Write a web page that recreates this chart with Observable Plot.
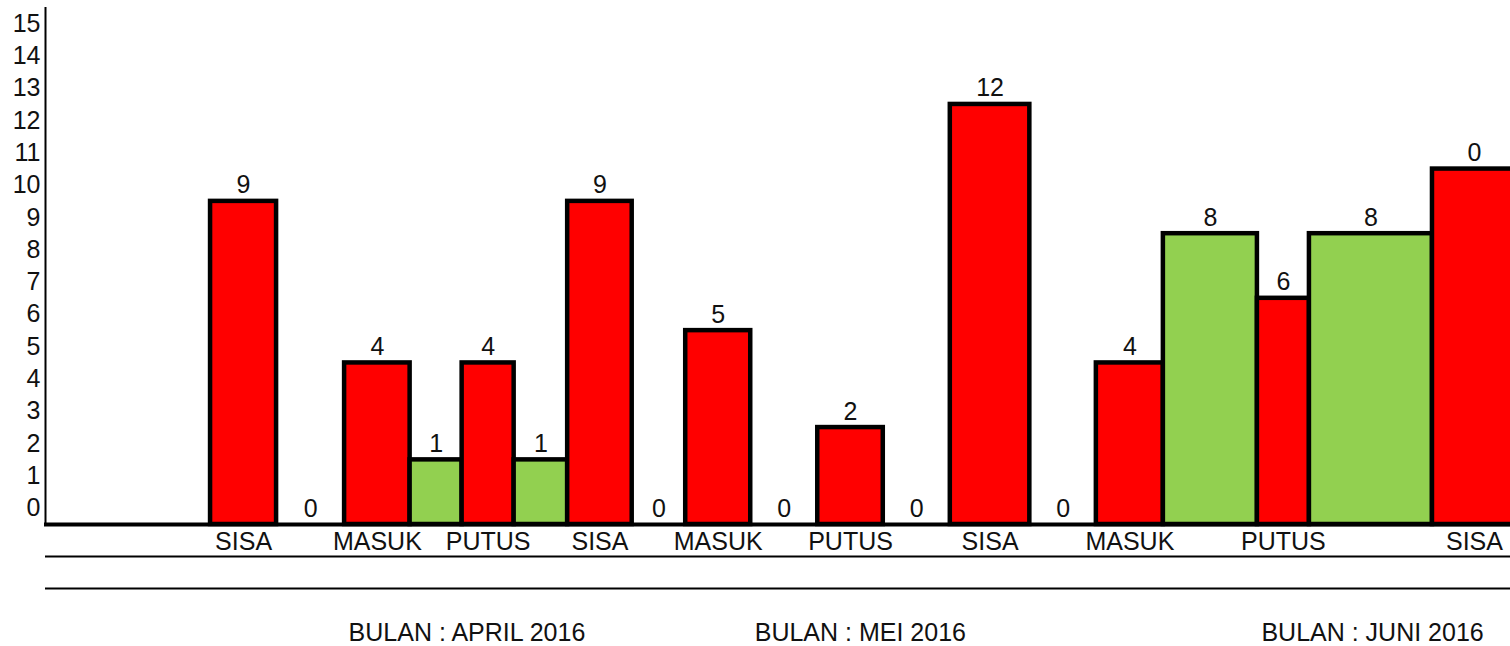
<!DOCTYPE html>
<html>
<head>
<meta charset="utf-8">
<script src="https://cdn.jsdelivr.net/npm/d3@7"></script>
<script src="https://cdn.jsdelivr.net/npm/@observablehq/plot@0.6"></script>
<style>
  html, body { margin: 0; padding: 0; background: #fff; overflow: hidden; }
  #chart { width: 1510px; height: 646px; overflow: hidden; }
  #chart svg { max-width: none !important; }
</style>
</head>
<body>
<div id="chart"></div>
<script>
// Bars in order, left to right (the first slot is the empty lead-in before the first bar)
const categories  = ["", "SISA", "", "MASUK", "", "PUTUS", "", "SISA", "", "MASUK", "", "PUTUS", "", "SISA", "", "MASUK", "", "PUTUS", "", "SISA"];
const values      = [null, 9, 0, 4, 1, 4, 1, 9, 0, 5, 0, 2, 0, 12, 0, 4, 8, 6, 8, 10];
const valueLabels = ["", "9", "0", "4", "1", "4", "1", "9", "0", "5", "0", "2", "0", "12", "0", "4", "8", "6", "8", "0"];
const kinds       = ["", "red", "red", "red", "green", "red", "green", "red", "red", "red", "red", "red", "red", "red", "red", "red", "green", "red", "green", "red"];
// relative column spans (variable-width columns)
const spans       = [165, 66, 68, 65.5, 52, 52, 53.5, 64.5, 53.5, 65, 67, 65.5, 67, 79.5, 66.5, 67, 94, 52, 123, 84];
const months      = ["BULAN : APRIL 2016", "BULAN : MEI 2016", "BULAN : JUNI 2016"];
const monthStartBar = [3, 10, 17];
const yTicks      = d3.range(0, 16);

const colors = {red: "#FF0000", green: "#92D050"};

let acc = 0;
const bars = categories.map((c, i) => {
  const x1 = acc; acc += spans[i];
  return {i, cat: c, value: values[i], label: valueLabels[i], kind: kinds[i], x1, x2: acc, xm: (x1 + acc) / 2};
}).slice(1);
const total = acc;
const monthData = months.map((m, k) => ({label: m, x: bars.find(b => b.i === monthStartBar[k]).x1}));

const W = 1516, H = 646, MT = 7, MB = 122, ML = 45;
const yMax = 16;
const unit = (H - MB - MT) / yMax;
const font = "'Liberation Sans', Arial, sans-serif";
const fs = 25;

const chart = Plot.plot({
  width: W, height: H,
  marginTop: MT, marginBottom: MB, marginLeft: ML, marginRight: 0,
  style: {fontFamily: font, fontSize: fs + "px", color: "#000", background: "#fff", overflow: "hidden", maxWidth: "none"},
  x: {domain: [0, total], axis: null},
  y: {domain: [0, yMax], axis: null},
  marks: [
    Plot.rectY(bars.filter(d => d.value > 0), {
      x1: "x1", x2: "x2", y1: 0, y2: "value",
      fill: d => colors[d.kind], stroke: "#000", strokeWidth: 4.5,
      insetTop: -unit
    }),
    Plot.text(bars.filter(d => d.value > 0), {
      x: "xm", y: "value", text: "label", dy: -unit - 16,
      fontSize: fs, fill: "#111", fontFamily: font
    }),
    Plot.text(bars.filter(d => d.value === 0), {
      x: "xm", y: 0, text: "label", dy: -16,
      fontSize: fs, fill: "#111", fontFamily: font
    }),
    Plot.text(bars.filter(d => d.cat), {
      x: "xm", y: 0, text: "cat", dy: 17,
      fontSize: fs, fill: "#111", fontFamily: font
    }),
    Plot.text(monthData, {
      x: "x", y: 0, text: "label", dy: 108, dx: 4, textAnchor: "start",
      fontSize: fs, fill: "#111", fontFamily: font
    }),
    Plot.axisY({ticks: yTicks, label: null, tickSize: 0, tickPadding: 5, dy: -unit / 2, fontSize: fs, tickFormat: d => String(d), fill: "#111"}),
    Plot.ruleX([0], {stroke: "#000", strokeWidth: 2}),
    Plot.ruleY([0], {stroke: "#000", strokeWidth: 4, dx: -1}),
    Plot.ruleY([0], {stroke: "#000", strokeWidth: 2, dy: 32}),
    Plot.ruleY([0], {stroke: "#000", strokeWidth: 2, dy: 64})
  ]
});
document.getElementById("chart").appendChild(chart);
</script>
</body>
</html>
